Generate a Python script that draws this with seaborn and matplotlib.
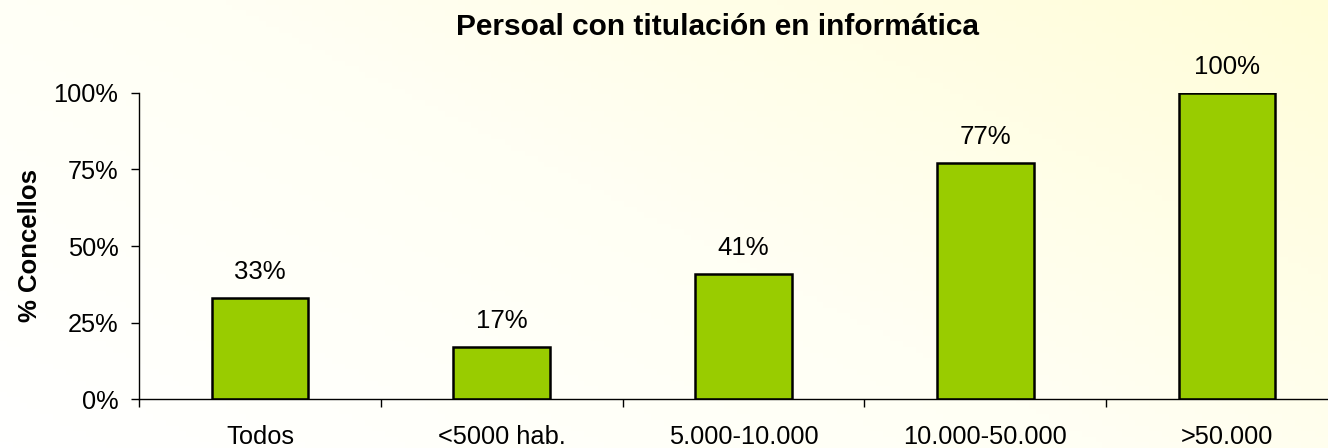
import numpy as np
import pandas as pd
import matplotlib
matplotlib.use("Agg")
import matplotlib.pyplot as plt
import seaborn as sns
from matplotlib.colors import LinearSegmentedColormap

categories = ["Todos", "<5000 hab.", "5.000-10.000", "10.000-50.000", ">50.000"]
values = [33, 17, 41, 77, 100]
value_labels = ["33%", "17%", "41%", "77%", "100%"]
yticks = [0, 25, 50, 75, 100]
ytick_labels = ["0%", "25%", "50%", "75%", "100%"]
title = "Persoal con titulación en informática"
ylabel = "% Concellos"

sns.set_theme(style="white")
plt.rcParams['font.family'] = ['Liberation Sans', 'DejaVu Sans']
plt.rcParams['text.color'] = 'black'
plt.rcParams['axes.labelcolor'] = 'black'
plt.rcParams['xtick.color'] = 'black'
plt.rcParams['ytick.color'] = 'black'

fig = plt.figure(figsize=(13.28, 4.48), dpi=100)

# background gradient
bg = fig.add_axes([0, 0, 1, 1], zorder=-10)
nx, ny = 200, 80
xx, yy = np.meshgrid(np.linspace(0, 1, nx), np.linspace(0, 1, ny))
g = np.clip(0.6 * xx + 0.4 * yy, 0, 1)
cmap = LinearSegmentedColormap.from_list("bgc", ["#FFFFFF", "#FFFFF4", "#FFFDD8"])
bg.imshow(g, cmap=cmap, origin="lower", aspect="auto", extent=[0, 1, 0, 1])
bg.axis("off")

ax = fig.add_axes([139/1328, 49/448, 1209/1328, 306/448])
ax.patch.set_alpha(0)

df = pd.DataFrame({"cat": categories, "val": values})
sns.barplot(data=df, x="cat", y="val", color="#99CC00", saturation=1,
            width=0.4, edgecolor="black", linewidth=1.8, ax=ax)

ax.set_xlim(-0.5, 4.5)
ax.set_ylim(0, 100)
ax.set_yticks(yticks)
ax.set_yticklabels(ytick_labels, fontsize=18.3)
ax.set_xticks(np.arange(-0.5, 4.6, 1), minor=False)
ax.set_xticklabels([])
ax.set_xticks(np.arange(0, 5), minor=True)
ax.set_xticklabels(categories, minor=True, fontsize=18.3)
ax.tick_params(axis="x", which="minor", length=0, pad=19)
ax.tick_params(axis="x", which="major", direction="out", length=5.8, width=1, color="black", bottom=True)
ax.tick_params(axis="y", direction="out", length=5.8, width=1, color="black", left=True, pad=9)
ax.set_xlabel("")
ax.set_ylabel(ylabel, fontsize=18.5, fontweight="bold")
ax.yaxis.set_label_coords(-0.080, 0.5)

for s in ["top", "right"]:
    ax.spines[s].set_visible(False)
for s in ["left", "bottom"]:
    ax.spines[s].set_color("black")
    ax.spines[s].set_linewidth(1)

for i, (v, lab) in enumerate(zip(values, value_labels)):
    ax.annotate(lab, (i, v), xytext=(0, 13.7), textcoords="offset points",
                ha="center", va="baseline", fontsize=18.5)

fig.text(717/1328, 1 - 35/448, title, ha="center", va="baseline", fontsize=21.5, fontweight="bold")

fig.savefig("out.png", dpi=100)
